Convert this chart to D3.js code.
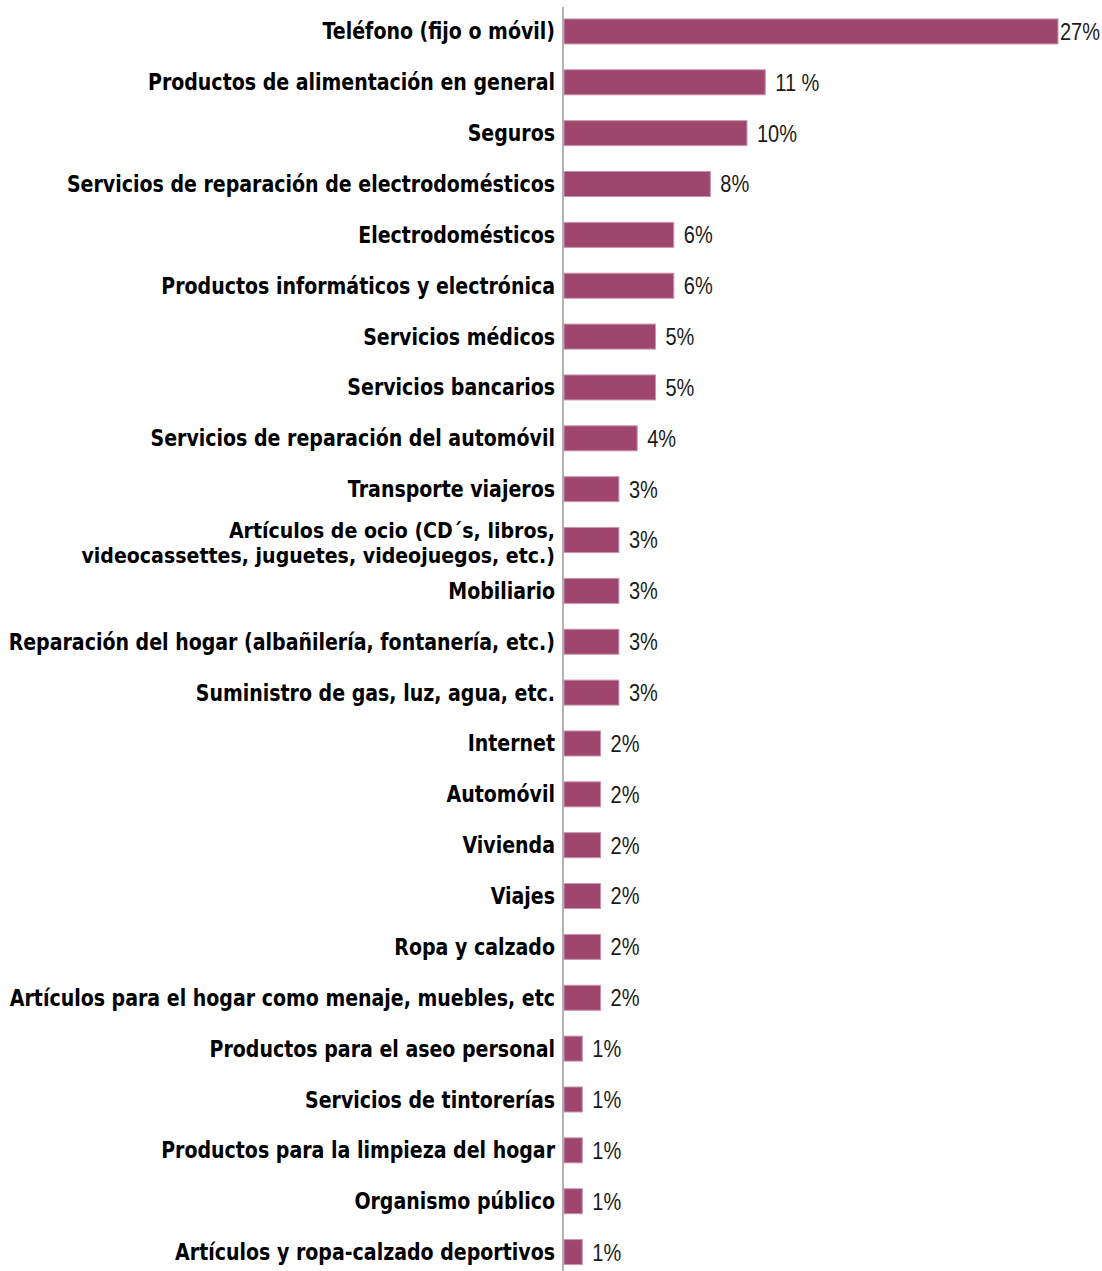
<!DOCTYPE html>
<html>
<head>
<meta charset="utf-8">
<script src="https://cdn.jsdelivr.net/npm/d3@7"></script>
<style>
  html, body { margin: 0; padding: 0; background: #fff; }
  svg { display: block; }
</style>
</head>
<body>
<svg id="chart" width="1102" height="1271"></svg>
<script>
// Categories (top to bottom); multi-line labels use "\n"
const categories = [
  "Teléfono (fijo o móvil)",
  "Productos de alimentación en general",
  "Seguros",
  "Servicios de reparación de electrodomésticos",
  "Electrodomésticos",
  "Productos informáticos y electrónica",
  "Servicios médicos",
  "Servicios bancarios",
  "Servicios de reparación del automóvil",
  "Transporte viajeros",
  "Artículos de ocio (CD´s, libros,\nvideocassettes, juguetes, videojuegos, etc.)",
  "Mobiliario",
  "Reparación del hogar (albañilería, fontanería, etc.)",
  "Suministro de gas, luz, agua, etc.",
  "Internet",
  "Automóvil",
  "Vivienda",
  "Viajes",
  "Ropa y calzado",
  "Artículos para el hogar como menaje, muebles, etc",
  "Productos para el aseo personal",
  "Servicios de tintorerías",
  "Productos para la limpieza del hogar",
  "Organismo público",
  "Artículos y ropa-calzado deportivos"
];

// Percentages per category
const values = [27, 11, 10, 8, 6, 6, 5, 5, 4, 3, 3, 3, 3, 3, 2, 2, 2, 2, 2, 2, 1, 1, 1, 1, 1];

// Value labels as printed next to each bar
const valueLabels = ["27%", "11 %", "10%", "8%", "6%", "6%", "5%", "5%", "4%", "3%", "3%", "3%", "3%", "3%",
  "2%", "2%", "2%", "2%", "2%", "2%", "1%", "1%", "1%", "1%", "1%"];

const W = 1102, H = 1271;
const axisX = 563;
const vScale = 1.17;     // vertical stretch applied to single-line text
const vScaleMulti = 1.1; // slightly less for two-line labels

const svg = d3.select("#chart");

const x = d3.scaleLinear().domain([0, 27]).range([axisX + 1, 1058]);
const y = d3.scaleBand()
  .domain(d3.range(categories.length))
  .range([6, 6 + categories.length * 50.86])
  .paddingInner(0.508)
  .paddingOuter(0.254);

// Bars
svg.append("g").selectAll("rect")
  .data(values)
  .join("rect")
  .attr("x", x(0))
  .attr("y", (d, i) => y(i))
  .attr("width", d => x(d) - x(0))
  .attr("height", y.bandwidth())
  .attr("fill", "#9e466e")
  .attr("stroke", "#c996ae")
  .attr("stroke-width", 1);

// Vertical category axis line
svg.append("line")
  .attr("x1", axisX).attr("x2", axisX)
  .attr("y1", 7).attr("y2", H)
  .attr("stroke", "#9a9a9a")
  .attr("stroke-width", 1.5);

// Category labels (one text element per line)
const labelFont = "'DejaVu Sans', Verdana, sans-serif";
const cat = svg.append("g").selectAll("g")
  .data(categories)
  .join("g")
  .attr("transform", (d, i) => {
    const s = d.includes("\n") ? vScaleMulti : vScale;
    return `translate(${axisX - 8},${y(i) + y.bandwidth() / 2}) scale(1,${s})`;
  });

cat.each(function (d) {
  const lines = d.split("\n");
  const offsets = lines.length === 1 ? [0] : [-8.8, 14.2];
  lines.forEach((ln, k) => {
    d3.select(this).append("text")
      .attr("text-anchor", "end")
      .attr("font-family", labelFont)
      .attr("font-weight", "bold")
      .attr("font-size", 19)
      .attr("fill", "#000")
      .attr("x", 0)
      .attr("y", offsets[k])
      .attr("dy", "0.36em")
      .text(ln);
  });
});

// Value labels
const vals = svg.append("g").selectAll("text")
  .data(values)
  .join("text")
  .attr("font-family", "'Liberation Sans', Arial, sans-serif")
  .attr("font-size", 20)
  .attr("fill", "#1a1a1a")
  .attr("dy", "0.36em")
  .text((d, i) => valueLabels[i]);

vals.each(function (d, i) {
  const wText = this.getComputedTextLength();
  const px = Math.min(x(d) + 10, W - 2 - wText);
  d3.select(this).attr("transform", `translate(${px},${y(i) + y.bandwidth() / 2}) scale(1,${vScale})`);
});
</script>
</body>
</html>
